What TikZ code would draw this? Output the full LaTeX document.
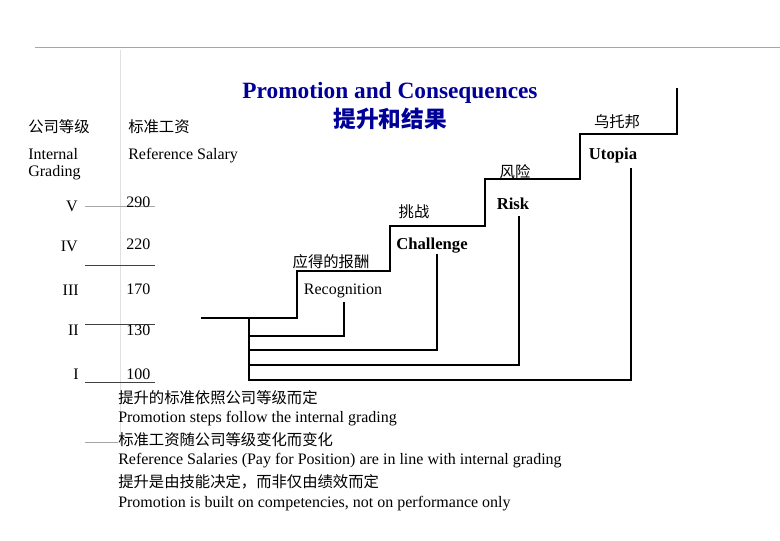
\documentclass[tikz,border=0pt]{standalone}
\usepackage{fontspec}
\setmainfont{Liberation Serif}
\newfontfamily\cjk{Noto Sans CJK SC}
\begin{document}
\begin{tikzpicture}[x=0.75pt,y=-0.75pt,
  stair/.style={line width=1.6pt},
  thin/.style={line width=0.6pt,black!75},
  faint/.style={line width=0.5pt,black!35},
  txt/.style={inner sep=0pt,font=\fontsize{12}{14}\selectfont},
  zh/.style={inner sep=0pt,font=\cjk\fontsize{11.5}{14}\selectfont},
  big/.style={inner sep=0pt,font=\bfseries\fontsize{12.5}{14}\selectfont}]
\useasboundingbox (0,0) rectangle (780,540);
\draw[faint] (35,47) -- (780,47);
\draw[black!12,line width=0.5pt] (120,50) -- (120,445);
% left underlines
\draw[faint] (85,206) -- (155,206);
\draw[thin] (85,265) -- (155,265);
\draw[thin] (85,324) -- (155,324);
\draw[thin] (85,382) -- (155,382);
\draw[faint] (85,442) -- (118,442);
% title
\node[inner sep=0pt,text=blue!60!black,font=\bfseries\fontsize{17.5}{20}\selectfont] (t1) at (390,93) {Promotion and Consequences};
\node[inner sep=0pt,text=blue!60!black,font=\cjk\bfseries\fontsize{17}{20}\selectfont] (t2) at (390,119) {提升和结果};
% headers
\node[zh,anchor=west] (h1) at (28,127) {公司等级};
\node[zh,anchor=west] (h2) at (128,127) {标准工资};
\node[txt,anchor=west] (h3) at (28,154) {Internal};
\node[txt,anchor=west] (h4) at (28,173) {Grading};
\node[txt,anchor=west] (h5) at (128,156) {Reference Salary};
% grades
\node[txt,anchor=east] (g5) at (78,206) {V};
\node[txt,anchor=east] (g4) at (78,246) {IV};
\node[txt,anchor=east] (g3) at (79,290) {III};
\node[txt,anchor=east] (g2) at (79,330) {II};
\node[txt,anchor=east] (g1) at (79,374) {I};
\node[txt,anchor=west] (s5) at (126,202) {290};
\node[txt,anchor=west] (s4) at (126,244) {220};
\node[txt,anchor=west] (s3) at (126,289) {170};
\node[txt,anchor=west] (s2) at (126,330) {130};
\node[txt,anchor=west] (s1) at (126,374) {100};
% staircase
\coordinate (a0) at (201,318);
\draw[stair] (a0) -- (297,318) -- (297,271) -- (390,271) -- (390,226) -- (485,226) -- (485,179) -- (580,179) -- (580,134) -- (677,134) -- (677,88);
\coordinate (tk) at (249,318);
\coordinate (tb) at (249,381);
\draw[stair] (tk) -- (tb);
\draw[stair] (249,336) -- (344,336) -- (344,302);
\draw[stair] (249,350) -- (437,350) -- (437,254);
\draw[stair] (249,365) -- (519,365) -- (519,216);
\draw[stair] (249,380) -- (631,380) -- (631,168);
% step labels
\node[zh] (u1) at (617,122) {乌托邦};
\node[big] (u2) at (613,155) {Utopia};
\node[zh] (r1) at (515,172) {风险};
\node[big] (r2) at (513,204) {Risk};
\node[zh] (c1) at (414,212) {挑战};
\node[big] (c2) at (432,246) {Challenge};
\node[zh] (e1) at (331,262) {应得的报酬};
\node[txt] (e2) at (343,291) {Recognition};
% bottom notes
\node[zh,anchor=west] (n1) at (118,398) {提升的标准依照公司等级而定};
\node[txt,anchor=west] (n2) at (118,419) {Promotion steps follow the internal grading};
\node[zh,anchor=west] (n3) at (118,440) {标准工资随公司等级变化而变化};
\node[txt,anchor=west] (n4) at (118,461) {Reference Salaries (Pay for Position) are in line with internal grading};
\node[zh,anchor=west] (n5) at (118,482) {提升是由技能决定，而非仅由绩效而定};
\node[txt,anchor=west] (n6) at (118,504) {Promotion is built on competencies, not on performance only};
\end{tikzpicture}
\end{document}
